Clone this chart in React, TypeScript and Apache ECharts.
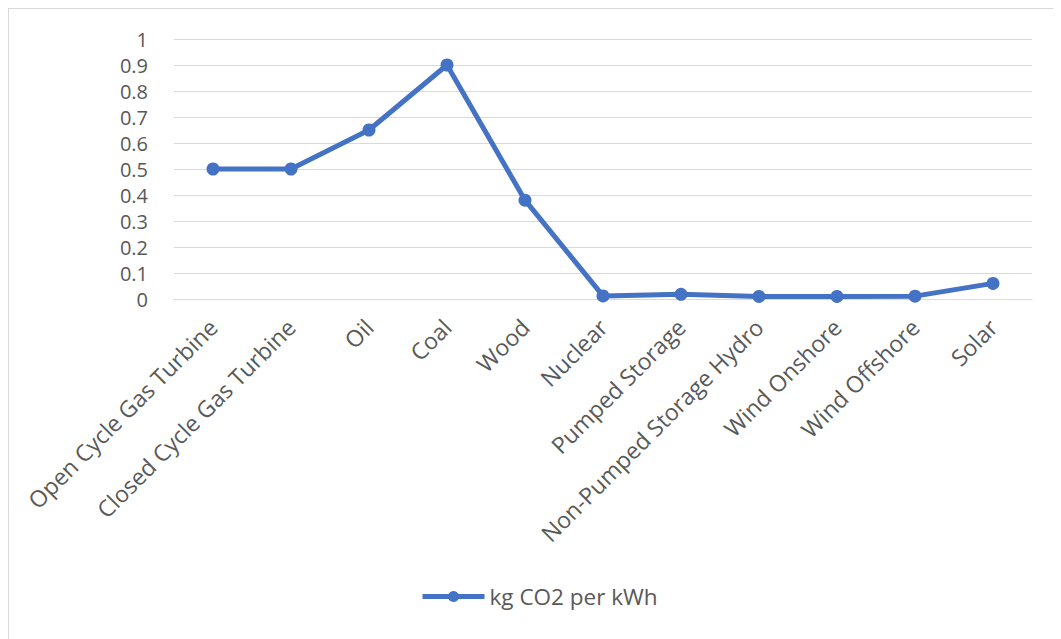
import React, { useEffect, useRef } from "react";
import * as echarts from "echarts";

// Emission intensity by generation source
const categories = [
  "Open Cycle Gas Turbine",
  "Closed Cycle Gas Turbine",
  "Oil",
  "Coal",
  "Wood",
  "Nuclear",
  "Pumped Storage",
  "Non-Pumped Storage Hydro",
  "Wind Onshore",
  "Wind Offshore",
  "Solar",
];
const kgCo2PerKwh = [0.5, 0.5, 0.65, 0.9, 0.38, 0.012, 0.018, 0.01, 0.01, 0.011, 0.06];
const seriesName = "kg CO2 per kWh";

const FONT = "'Open Sans', sans-serif";
const TEXT = "#595959";
const BLUE = "#4472C4";

export default function App() {
  const ref = useRef<HTMLDivElement>(null);

  useEffect(() => {
    if (!ref.current) return;
    const chart = echarts.init(ref.current, undefined, { renderer: "svg" });
    chart.setOption({
      animation: false,
      textStyle: { fontFamily: FONT, color: TEXT },
      grid: { left: 165, right: 29, top: 30, height: 260, containLabel: false },
      legend: {
        top: 576,
        left: 411,
        padding: 0,
        itemWidth: 62,
        itemHeight: 14,
        itemGap: 6,
        lineStyle: { width: 5, color: BLUE },
        itemStyle: { color: BLUE },
        textStyle: { fontFamily: FONT, fontSize: 22.5, color: TEXT, padding: [0, 0, 0, 0] },
        data: [seriesName],
      },
      xAxis: {
        type: "category",
        data: categories,
        boundaryGap: true,
        axisLine: { show: true, lineStyle: { color: "#d9d9d9", width: 1 } },
        axisTick: { show: false },
        axisLabel: {
          interval: 0,
          rotate: 45,
          margin: 24,
          fontFamily: FONT,
          fontSize: 23,
          color: TEXT,
        },
      },
      yAxis: {
        type: "value",
        min: 0,
        max: 1,
        interval: 0.1,
        axisLine: { show: false },
        axisTick: { show: false },
        splitLine: { lineStyle: { color: "#d9d9d9", width: 1 } },
        axisLabel: {
          margin: 26,
          fontFamily: FONT,
          fontSize: 20,
          color: TEXT,
          formatter: (v: number) => String(Math.round(v * 10) / 10),
        },
      },
      series: [
        {
          name: seriesName,
          type: "line",
          data: kgCo2PerKwh,
          symbol: "circle",
          symbolSize: 13,
          lineStyle: { color: BLUE, width: 5 },
          itemStyle: { color: BLUE },
        },
      ],
    });
    return () => chart.dispose();
  }, []);

  return (
    <div
      style={{
        width: 1053,
        height: 631,
        boxSizing: "border-box",
        borderLeft: "1px solid #d9d9d9",
        borderTop: "1px solid #d9d9d9",
        background: "#fff",
      }}
    >
      <div ref={ref} style={{ width: 1052, height: 630 }} />
    </div>
  );
}
